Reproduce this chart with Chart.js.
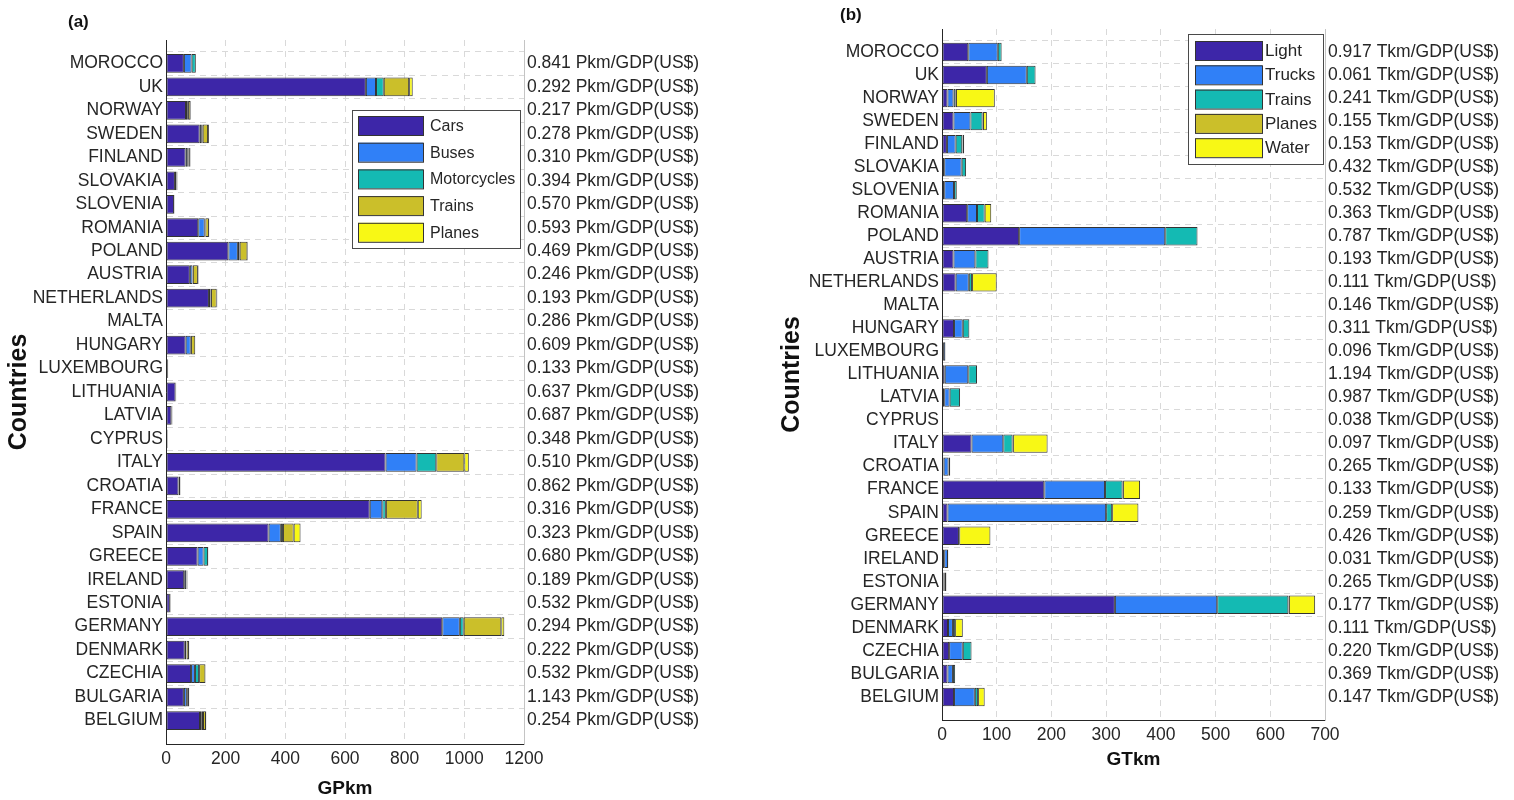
<!DOCTYPE html>
<html>
<head>
<meta charset="utf-8">
<script src="https://cdn.jsdelivr.net/npm/chart.js@4.4.1/dist/chart.umd.min.js"></script>
<style>
  html, body { margin: 0; padding: 0; background: #fff; width: 1514px; height: 800px; overflow: hidden; }
  .panel { position: absolute; top: 0; }
  #wrapA { left: 0; }
  #wrapB { left: 770px; }
</style>
</head>
<body>
<div id="wrapA" class="panel"><canvas id="passenger" width="760" height="800"></canvas></div>
<div id="wrapB" class="panel"><canvas id="freight" width="744" height="800"></canvas></div>
<script>
// Countries, listed top to bottom
const countries = ['MOROCCO', 'UK', 'NORWAY', 'SWEDEN', 'FINLAND', 'SLOVAKIA', 'SLOVENIA', 'ROMANIA',
  'POLAND', 'AUSTRIA', 'NETHERLANDS', 'MALTA', 'HUNGARY', 'LUXEMBOURG', 'LITHUANIA', 'LATVIA',
  'CYPRUS', 'ITALY', 'CROATIA', 'FRANCE', 'SPAIN', 'GREECE', 'IRELAND', 'ESTONIA', 'GERMANY',
  'DENMARK', 'CZECHIA', 'BULGARIA', 'BELGIUM'];

// Passenger transport (GPkm)
const cars        = [60, 670, 67, 113, 66, 30, 27, 108, 209, 80, 144, 2, 66, 6, 32, 18, 5, 736, 42, 683, 344, 106, 61, 13, 926, 63, 84, 60, 114];
const buses       = [26, 34, 4, 7, 7, 4, 1, 22, 32, 9, 5, 0.5, 17, 1, 2, 3, 1, 104, 5, 42, 41, 20, 7, 2, 59, 5, 13, 10, 6];
const motorcycles = [14, 26, 3, 3, 2, 1, 0, 2, 6, 1, 2, 0, 1, 0, 0, 0, 0, 66, 1, 12, 7, 15, 1, 0, 13, 1, 14, 1, 4];
const pTrains     = [0, 85, 8, 18, 5, 3, 1, 12, 26, 17, 19, 0, 14, 0.5, 0.5, 1, 0, 94, 1, 107, 36, 1, 3, 1, 126, 8, 21, 6, 10];
const pPlanes     = [0, 12, 2, 3, 2, 1, 0, 1, 2, 2, 2, 0, 0, 0, 0, 0, 0, 15, 0, 13, 23, 0, 0, 0, 10, 1, 1, 1, 1];
const pkmPerGdp   = [0.841, 0.292, 0.217, 0.278, 0.310, 0.394, 0.570, 0.593, 0.469, 0.246, 0.193, 0.286,
  0.609, 0.133, 0.637, 0.687, 0.348, 0.510, 0.862, 0.316, 0.323, 0.680, 0.189, 0.532, 0.294, 0.222,
  0.532, 1.143, 0.254];

// Freight transport (GTkm)
const light   = [48, 82, 10, 21, 9, 4, 4, 46, 141, 21, 25, 1, 22, 2, 5, 4, 1, 54, 3, 187, 10, 31, 4, 3, 316, 11, 13, 10, 22];
const trucks  = [54, 73, 11, 31, 16, 32, 18, 18, 267, 40, 24, 0, 16, 4, 43, 10, 0, 58, 9, 111, 290, 0, 7, 2, 187, 9, 25, 10, 38];
const fTrains = [7, 16, 4, 22, 12, 8, 5, 14, 59, 24, 6, 0, 12, 0.5, 16, 19, 0, 17, 3, 32, 11, 0.5, 0.5, 3, 130, 4, 16, 4, 6];
const fPlanes = [0, 0, 0.5, 1, 0.5, 0, 0, 0, 0, 0, 0, 0, 0, 0, 0, 0, 0, 1, 0, 1, 0, 0, 0, 0, 1, 0, 0, 0, 0];
const water   = [0, 0, 71, 7, 3, 0, 0, 12, 0, 0, 45, 0, 0, 0, 0, 0, 0, 63, 0, 31, 48, 57, 0, 0, 48, 14, 0, 0, 12];
const tkmPerGdp = [0.917, 0.061, 0.241, 0.155, 0.153, 0.432, 0.532, 0.363, 0.787, 0.193, 0.111, 0.146,
  0.311, 0.096, 1.194, 0.987, 0.038, 0.097, 0.265, 0.133, 0.259, 0.426, 0.031, 0.265, 0.177, 0.111,
  0.220, 0.369, 0.147];

const passengerTicks = [0, 200, 400, 600, 800, 1000, 1200];
const freightTicks = [0, 100, 200, 300, 400, 500, 600, 700];

const palette = ['#3d26a8', '#3080f7', '#14bab3', '#cbbf2a', '#f8f815'];
const FONT = '"Liberation Sans", Arial, Helvetica, sans-serif';
const INK = '#262626';

Chart.defaults.font.family = FONT;
Chart.defaults.color = INK;
Chart.defaults.animation = false;

// one empty slot above and below the country rows keeps half-row margins at both ends
const pad = arr => [null, ...arr, null];
const rowLabels = pad(countries).map(v => v === null ? '' : v);

function series(label, values, color) {
  return {
    label,
    data: pad(values),
    backgroundColor: color,
    borderColor: '#333333',
    borderWidth: 1,
    borderSkipped: false,
    barPercentage: 0.8,
    categoryPercentage: 1.0,
    stack: 'all'
  };
}

// Legend box and panel letter drawn on top of the plot
const panelDecor = {
  id: 'panelDecor',
  afterDraw(chart, args, opts) {
    const ctx = chart.ctx;
    ctx.save();
    ctx.font = 'bold 17px ' + FONT;
    ctx.fillStyle = '#111';
    ctx.textAlign = 'left';
    ctx.textBaseline = 'middle';
    ctx.fillText(opts.tag, opts.tagX, opts.tagY);

    const b = opts.box;
    ctx.fillStyle = '#fff';
    ctx.fillRect(b.x, b.y, b.w, b.h);
    ctx.strokeStyle = '#4a4a4a';
    ctx.lineWidth = 1;
    ctx.strokeRect(b.x + 0.5, b.y + 0.5, b.w, b.h);

    ctx.font = opts.fontSize + 'px ' + FONT;
    chart.data.datasets.forEach((ds, i) => {
      const top = opts.swTop + i * opts.rowH;
      ctx.fillStyle = ds.backgroundColor;
      ctx.fillRect(opts.swX, top, opts.swW, opts.swH);
      ctx.strokeStyle = '#333333';
      ctx.strokeRect(opts.swX + 0.5, top + 0.5, opts.swW, opts.swH);
      ctx.fillStyle = INK;
      ctx.fillText(ds.label, opts.textX, top + opts.swH / 2 + 1);
    });
    ctx.restore();
  }
};

function makeChart(canvasId, cfg) {
  const last = rowLabels.length - 1;
  return new Chart(document.getElementById(canvasId), {
    type: 'bar',
    data: { labels: rowLabels, datasets: cfg.datasets },
    plugins: [panelDecor],
    options: {
      indexAxis: 'y',
      responsive: false,
      layout: { padding: { top: cfg.top, left: 0, right: 0, bottom: 0 } },
      plugins: {
        legend: { display: false },
        tooltip: { enabled: false },
        panelDecor: cfg.decor
      },
      scales: {
        x: {
          type: 'linear',
          stacked: true,
          min: cfg.ticks[0],
          max: cfg.ticks[cfg.ticks.length - 1],
          afterBuildTicks: s => { s.ticks = cfg.ticks.map(v => ({ value: v })); },
          ticks: {
            font: { size: 17.5 }, color: INK, padding: cfg.xTickPad, maxRotation: 0,
            callback: v => String(v)
          },
          grid: { color: '#d9d9d9', lineWidth: 1, drawTicks: false },
          border: { color: '#262626', width: 1, dash: [6, 5] },
          title: {
            display: true, text: cfg.xTitle, color: '#111',
            font: { size: 19, weight: 'bold' },
            padding: { top: 0, bottom: cfg.xTitlePad }
          },
          afterFit: s => { s.height = cfg.xHeight; }
        },
        y: {
          type: 'category',
          stacked: true,
          offset: false,
          ticks: { font: { size: 17.5 }, color: INK, padding: 3, autoSkip: false, maxRotation: 0 },
          grid: {
            drawTicks: false,
            color: c => (c.index === 0 || c.index === last) ? 'rgba(0,0,0,0)' : '#d9d9d9'
          },
          border: { color: '#262626', width: 1, dash: [6, 5] },
          title: {
            display: true, text: 'Countries', color: '#111',
            font: { size: 25, weight: 'bold' },
            padding: { top: cfg.yTitlePad, bottom: 0 }
          },
          afterFit: s => { s.width = cfg.yWidth; }
        },
        yRight: {
          type: 'category',
          axis: 'y',
          position: 'right',
          offset: false,
          labels: pad(cfg.rightLabels).map(v => v === null ? '' : v),
          ticks: { font: { size: 17.5 }, color: INK, padding: 3, autoSkip: false, maxRotation: 0 },
          grid: { display: false, drawTicks: false },
          border: { color: '#c4c4c4', width: 1 },
          afterFit: s => { s.width = cfg.rightWidth; }
        }
      }
    }
  });
}

makeChart('passenger', {
  datasets: [
    series('Cars', cars, palette[0]),
    series('Buses', buses, palette[1]),
    series('Motorcycles', motorcycles, palette[2]),
    series('Trains', pTrains, palette[3]),
    series('Planes', pPlanes, palette[4])
  ],
  ticks: passengerTicks,
  rightLabels: pkmPerGdp.map(v => v.toFixed(3) + ' Pkm/GDP(US$)'),
  xTitle: 'GPkm',
  top: 40, yWidth: 166, rightWidth: 236, xHeight: 56,
  xTickPad: 5, xTitlePad: 0, yTitlePad: 4,
  decor: {
    tag: '(a)', tagX: 68, tagY: 22,
    box: { x: 352, y: 110, w: 168, h: 138 },
    swX: 358, swW: 65, swH: 19, swTop: 116, rowH: 26.7, textX: 430, fontSize: 16
  }
});

makeChart('freight', {
  datasets: [
    series('Light', light, palette[0]),
    series('Trucks', trucks, palette[1]),
    series('Trains', fTrains, palette[2]),
    series('Planes', fPlanes, palette[3]),
    series('Water', water, palette[4])
  ],
  ticks: freightTicks,
  rightLabels: tkmPerGdp.map(v => v.toFixed(3) + ' Tkm/GDP(US$)'),
  xTitle: 'GTkm',
  top: 29, yWidth: 172, rightWidth: 189, xHeight: 80,
  xTickPad: 5, xTitlePad: 29, yTitlePad: 7,
  decor: {
    tag: '(b)', tagX: 70, tagY: 15,
    box: { x: 418, y: 34, w: 135, h: 130 },
    swX: 425, swW: 67, swH: 19, swTop: 41, rowH: 24.3, textX: 495, fontSize: 17
  }
});
</script>
</body>
</html>
